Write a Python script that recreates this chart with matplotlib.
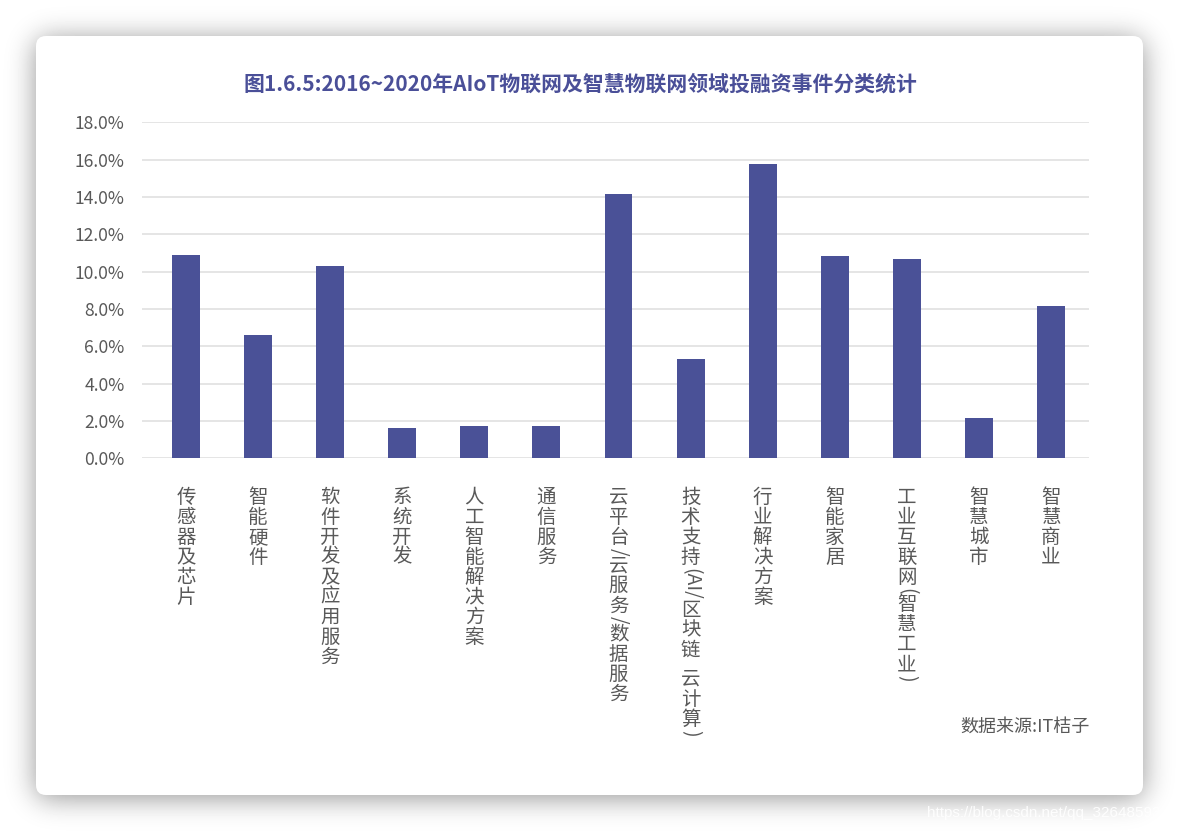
import numpy as np
import matplotlib
matplotlib.use("Agg")
import matplotlib.pyplot as plt
from matplotlib.patches import FancyBboxPatch
from matplotlib.font_manager import FontProperties

# ---------------- data ----------------
categories = ["传感器及芯片", "智能硬件", "软件开发及应用服务", "系统开发",
              "人工智能解决方案", "通信服务", "云平台/云服务/数据服务",
              "技术支持(AI/区块链 云计算)", "行业解决方案", "智能家居",
              "工业互联网(智慧工业)", "智慧城市", "智慧商业"]
shares = [10.89, 6.60, 10.30, 1.63, 1.73, 1.73, 14.16, 5.32, 15.77, 10.84, 10.68, 2.16, 8.16]
yticks = [0, 2, 4, 6, 8, 10, 12, 14, 16, 18]
title = "图1.6.5:2016~2020年AIoT物联网及智慧物联网领域投融资事件分类统计"
source = "数据来源:IT桔子"
watermark = "https://blog.csdn.net/qq_32648593"

# ---------------- style ----------------
CJK = ["Noto Sans CJK SC", "DejaVu Sans"]
plt.rcParams["font.family"] = CJK
BAR = "#4a5197"
TXT = "#595959"
W, H = 1180, 832

fig = plt.figure(figsize=(W / 100, H / 100), dpi=100)
fig.patch.set_facecolor("white")

# background with card shadow
bg = fig.add_axes([0, 0, 1, 1], zorder=-10)
bg.set_xlim(0, W)
bg.set_ylim(H, 0)
bg.axis("off")
cx0, cy0, cx1, cy1, rad = 36, 36, 1143, 795, 10
yy, xx = np.mgrid[0:H, 0:W] + 0.5
sy = 3
dx = np.maximum(np.maximum(cx0 + rad - xx, xx - (cx1 - rad)), 0)
dy = np.maximum(np.maximum(cy0 + sy + rad - yy, yy - (cy1 + sy - rad)), 0)
mask = (np.hypot(dx, dy) <= rad).astype(float)
sig = 14.0
k = np.arange(-45, 46)
kern = np.exp(-0.5 * (k / sig) ** 2)
kern /= kern.sum()
blur = np.apply_along_axis(lambda r: np.convolve(r, kern, mode="same"), 1, mask)
blur = np.apply_along_axis(lambda c: np.convolve(c, kern, mode="same"), 0, blur)
shade = 1 - 0.42 * blur
bg.imshow(shade, cmap="gray", vmin=0, vmax=1, extent=[0, W, H, 0], interpolation="bilinear")
card = FancyBboxPatch((cx0, cy0), cx1 - cx0, cy1 - cy0,
                      boxstyle=f"round,pad=0,rounding_size={rad}",
                      facecolor="white", edgecolor="none")
bg.add_patch(card)

# main axes
ax_l, ax_r, ax_b, ax_t = 142, 1089, 458.3, 122.3
ax = fig.add_axes([ax_l / W, 1 - ax_b / H, (ax_r - ax_l) / W, (ax_b - ax_t) / H])
ax.set_facecolor("none")
x = np.arange(len(categories))
ax.bar(x, shares, width=0.388, color=BAR, zorder=3)
ax.set_xlim(-0.61, 12.527)
ax.set_ylim(0, 18)
ax.set_yticks(yticks)
ax.set_yticklabels([f"{v:.1f}%" for v in yticks], fontsize=12.6, color=TXT)
ax.yaxis.grid(True, color="#e0e0e0", linewidth=1.2, zorder=0)
ax.set_axisbelow(True)
ax.tick_params(axis="y", length=0, pad=12.5)
ax.set_xticks([])
for s in ax.spines.values():
    s.set_visible(False)

# vertical category labels
lab_fs = 14
fp = FontProperties(family=CJK, size=lab_fs)
renderer = fig.canvas.get_renderer()
adv = 20.0


def tokens(s):
    out, run = [], ""
    for ch in s:
        if ord(ch) > 0x2E80:
            if run:
                out.append(run)
                run = ""
            out.append(ch)
        else:
            run += ch
    if run:
        out.append(run)
    return out


for i, lab in enumerate(categories):
    cur = 29.0
    for tk in tokens(lab):
        if len(tk) == 1 and ord(tk) > 0x2E80:
            h = adv
            rot = 0
        elif tk.strip() == "":
            h = 9.0 * len(tk)
            cur += h
            continue
        else:
            w_, h_, d_ = renderer.get_text_width_height_descent(tk, fp, ismath=False)
            h = w_ + 1
            rot = -90
        ax.annotate(tk, xy=(i, 0), xycoords=("data", "axes fraction"),
                    xytext=(0, -(cur + h / 2)), textcoords="offset pixels",
                    ha="center", va="center", rotation=rot,
                    fontproperties=fp, color=TXT, annotation_clip=False)
        cur += h

# title, source, watermark
fig.text(580 / W, 1 - 84 / H, title, ha="center", va="center", fontsize=15,
         fontweight="bold", color="#4a4f98")
fig.text(1090 / W, 1 - 727 / H, source, ha="right", va="center", fontsize=13, color=TXT)
fig.text(927 / W, 1 - 813 / H, watermark, ha="left", va="center", fontsize=11,
         family=["Liberation Sans", "DejaVu Sans"], color="white", alpha=0.9)

fig.savefig("out.png", dpi=100, facecolor=fig.get_facecolor())
